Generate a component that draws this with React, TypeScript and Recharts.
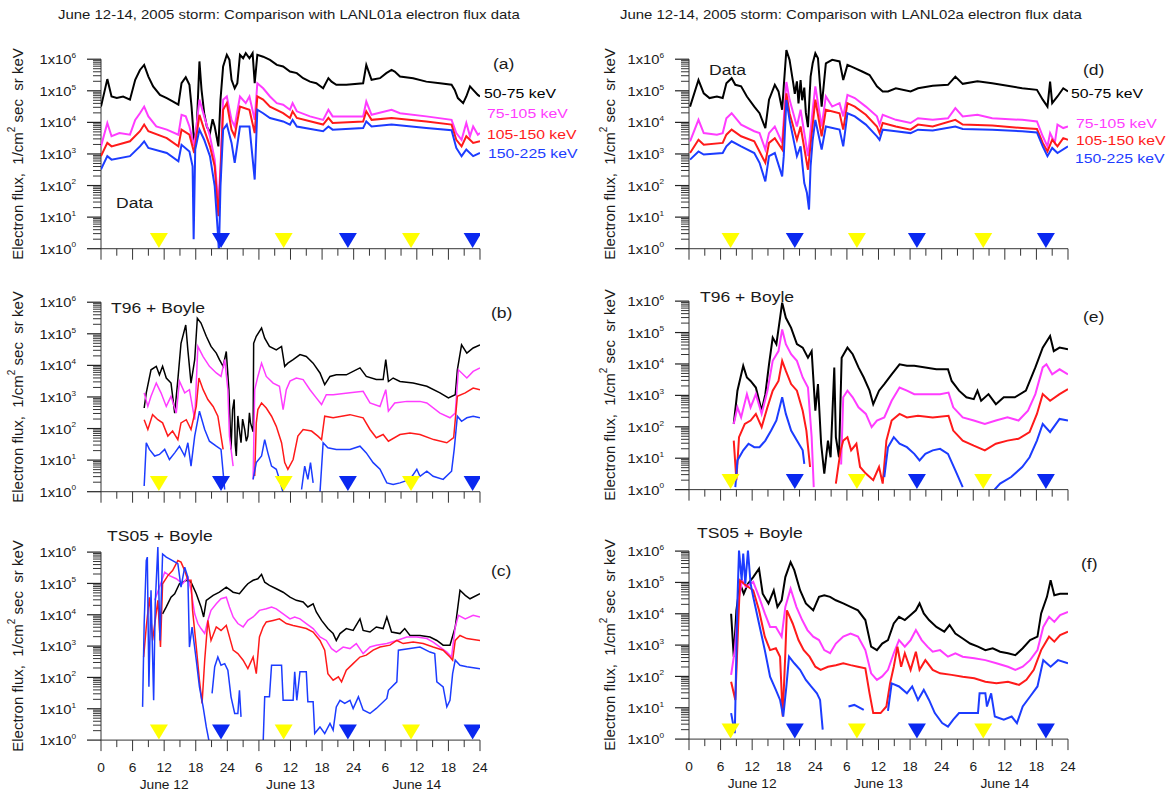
import { ComposedChart, Line, ReferenceLine, Scatter, XAxis, YAxis } from "recharts"

type Pt = [number, number | null]

// hours from 00 UT June 12, values = log10(flux), null = data gap

// (a) LANL01a data
const aBlack: Pt[] = [[0,4.5],[1.2,5.37],[2,4.82],[3,4.77],[4.2,4.82],[5.5,4.72],[6.5,5.35],[7.4,5.66],[8.2,5.82],[9,5.45],[9.9,5.14],[11.2,4.87],[12.5,4.77],[13.7,4.66],[14.7,4.56],[15.3,5.24],[16.1,5.43],[16.8,5.19],[17.2,4.5],[17.7,3.35],[18.2,3.87],[18.7,5.93],[19.1,5.03],[19.6,4.29],[20.1,3.87],[20.7,3.66],[21.2,4.1],[21.6,3.87],[22.3,3.24],[22.7,4.72],[23.2,5.77],[23.9,6.14],[24.4,5.98],[24.8,5.35],[25.4,5.08],[25.9,5.24],[26.4,6.14],[27,6.03],[27.5,6.19],[28.2,6.03],[28.8,6.19],[29.2,5.24],[29.7,6.14],[30.8,6.08],[32.1,5.98],[33.4,5.82],[34.6,5.77],[35.9,5.61],[37.2,5.56],[38.4,5.4],[39.7,5.29],[40.9,5.24],[42.2,5.08],[43.2,5.4],[43.8,5.29],[44.7,5.19],[46.6,5.19],[49.8,5.24],[50.4,5.82],[51.4,5.35],[53,5.4],[54.2,5.56],[55.2,5.66],[55.8,5.61],[56.8,5.45],[59.3,5.4],[61.8,5.29],[64.4,5.24],[66.6,5.19],[67.2,5.03],[67.8,4.77],[68.8,4.61],[69.4,4.82],[70.1,5.14],[70.7,5.03],[71.6,4.87],[72,4.82]]
const aPink: Pt[] = [[0,3.24],[1.2,3.98],[2,3.56],[3.5,3.66],[5.5,3.61],[6.5,4.08],[7.4,4.29],[8.2,4.5],[9,4.19],[10.5,3.87],[12.5,3.77],[14.7,3.61],[15.3,4.24],[16.1,4.19],[16.8,3.87],[17.7,3.24],[18.2,3.98],[18.7,4.72],[19.6,4.19],[20.7,3.56],[21.6,2.82],[22.3,1.35],[22.7,2.61],[23.2,4.72],[23.9,4.82],[24.8,4.08],[25.4,3.87],[26.4,4.82],[27.5,4.61],[28.2,4.82],[29.2,4.08],[29.7,5.24],[30.8,5.08],[32.1,4.82],[33.4,4.61],[34.6,4.56],[35.9,4.4],[36.4,4.61],[37.2,4.35],[39.7,4.19],[42.2,4.08],[43.2,4.4],[44,4.19],[46.6,4.19],[49.8,4.19],[50.4,4.66],[51.4,4.24],[55.2,4.4],[56.8,4.29],[61.8,4.19],[66.6,4.08],[67.5,3.66],[68.5,3.45],[69.4,3.98],[70.1,3.56],[70.7,3.87],[71.6,3.61],[72,3.66]]
const aRed: Pt[] = [[0,2.93],[1.2,3.35],[2,3.24],[5.5,3.4],[7.4,3.72],[8.2,3.93],[9,3.72],[12.5,3.5],[14.7,3.24],[15.3,3.77],[16.8,3.61],[17.7,3.03],[18.7,4.24],[19.6,3.77],[20.7,3.24],[21.6,2.61],[22.3,1.03],[22.7,2.4],[23.2,4.4],[23.9,4.61],[24.8,3.77],[25.4,3.56],[26.4,4.5],[28.2,4.4],[29.2,3.66],[29.7,4.82],[30.8,4.72],[32.1,4.5],[34.6,4.29],[35.9,4.14],[36.4,4.35],[37.2,4.14],[42.2,3.93],[43.2,4.14],[44,3.98],[49.8,4.03],[50.4,4.35],[51.4,4.08],[55.2,4.14],[61.8,4.03],[66.6,3.93],[67.5,3.45],[68.5,3.24],[69.4,3.56],[70.7,3.35],[72,3.4]]
const aBlue: Pt[] = [[0,2.51],[1.2,2.93],[2,2.82],[5.5,2.93],[7.4,3.24],[8.2,3.4],[9,3.19],[12.5,3.03],[14.7,2.77],[15.3,3.29],[16.8,3.08],[17.4,2.61],[17.6,0.3],[17.9,3.14],[18.7,3.77],[19.6,3.45],[20.7,2.93],[21.6,1.98],[22.2,0.5],[22.4,-0.1],[22.7,1.98],[23.2,3.77],[23.9,3.93],[24.8,3.35],[25.4,2.72],[26.4,3.87],[28.2,3.87],[29.2,2.19],[29.7,4.4],[30.8,4.29],[32.1,4.14],[34.6,4.03],[35.9,3.93],[36.4,4.08],[37.2,3.87],[42.2,3.72],[43.2,3.87],[44,3.77],[49.8,3.82],[50.4,4.03],[51.4,3.87],[55.2,3.93],[61.8,3.82],[66.6,3.75],[67.5,3.19],[68.5,2.93],[69.4,3.14],[70.7,2.93],[72,3.03]]

// (b) T96 + Boyle, LANL01a
const bBlack: Pt[] = [[8.2,2.65],[8.6,3.13],[9.5,3.86],[10.5,3.97],[11.1,3.7],[11.7,3.97],[12.4,3.6],[13.3,3.44],[14,2.49],[14.6,3.55],[15.2,4.7],[16.1,5.28],[16.5,4.49],[17.1,3.44],[17.8,4.18],[18.3,5.49],[19,5.34],[20,4.92],[20.9,4.6],[21.9,4.39],[22.5,4.18],[23.2,3.97],[23.8,4.44],[24.3,3.23],[24.7,1.34],[25,2.6],[25.3,2.92],[25.5,1.5],[25.7,1.13],[26,2.4],[26.2,2.07],[26.6,1.55],[26.9,2.3],[27.3,1.97],[27.6,1.6],[27.9,1.76],[28.2,2.5],[28.4,2.18],[28.9,1.9],[29,4.7],[29.5,4.92],[30.5,5.18],[31.1,4.86],[32,4.6],[33.3,4.49],[34.3,4.6],[34.9,3.97],[35.5,4.07],[36.5,4.18],[37.8,4.34],[39,4.28],[40.3,4.07],[41.6,3.76],[42.5,3.39],[43.5,3.65],[44.7,3.7],[46.6,3.7],[49.2,3.92],[50.4,3.65],[52.3,3.55],[53.6,3.55],[54.1,4.18],[54.6,3.49],[55.5,3.6],[56.8,3.49],[59.3,3.44],[61.9,3.34],[64.4,3.13],[66,2.97],[67.3,3.07],[67.7,3.86],[68.5,4.65],[69.5,4.39],[70.7,4.55],[72,4.65]]
const bPink: Pt[] = [[8.2,3.13],[8.9,2.7],[9.5,3.02],[10.5,3.44],[11.4,3.13],[12.4,2.7],[13.3,3.02],[14.3,2.49],[14.9,3.5],[15.9,3.13],[16.8,3.23],[17.8,2.28],[18.4,4.6],[19.4,4.28],[20.6,3.97],[21.9,3.76],[22.8,3.65],[23.5,4.18],[24.1,3.23],[24.4,1.76],[25.1,0.81],[25.2,null],[28.9,0.39],[29.2,3.23],[29.8,3.65],[30.5,4.07],[31.4,3.65],[32.7,3.44],[33.9,3.34],[34.6,2.6],[35.2,3.23],[35.9,3.5],[37.1,3.6],[38.4,3.55],[39.7,3.23],[40.9,2.97],[41.9,2.76],[42.8,3.07],[44.1,3.07],[47.3,3.13],[49.8,3.18],[51.1,2.81],[53,2.7],[54.1,3.23],[54.6,2.55],[55.8,2.81],[58.1,2.86],[60.6,2.86],[61.9,2.81],[64.4,2.49],[66.3,2.34],[67.3,2.49],[67.9,3.86],[69.5,3.6],[70.7,3.81],[72,3.92]]
const bRed: Pt[] = [[8.2,2.28],[8.9,1.97],[9.8,2.44],[10.8,2.28],[11.7,2.18],[12.7,1.76],[13.6,1.92],[14.6,1.65],[15.2,2.18],[16.2,2.28],[17.1,1.97],[18.1,2.7],[18.6,3.6],[19.4,3.23],[20.3,2.92],[21.3,2.7],[22.2,2.39],[23.2,1.34],[23.3,null],[29.2,0.5],[29.5,2.18],[29.8,2.6],[30.5,2.81],[31.4,2.65],[32.4,2.39],[33.3,2.07],[34.3,1.55],[34.9,0.92],[35.5,0.71],[36.5,1.02],[37.4,1.76],[38.4,1.97],[40,1.92],[41.2,1.76],[41.9,1.65],[42.5,2.39],[44.1,2.34],[47.3,2.44],[49.8,2.34],[51.1,1.97],[52.3,1.71],[53.6,1.81],[54.6,1.6],[56.8,1.81],[58.7,1.86],[60.6,1.81],[63.2,1.65],[65.7,1.55],[67,1.71],[67.7,3.02],[69.2,3.13],[70.7,3.28],[72,3.23]]
const bBlue: Pt[] = [[8.2,0.18],[8.6,1.55],[9.2,1.34],[10.2,1.13],[11.1,1.18],[12.1,1.34],[13,1.02],[14,1.23],[14.9,1.44],[15.9,1.13],[16.5,1.55],[17.1,0.81],[17.8,1.76],[18.7,2.55],[19.7,1.97],[20.6,1.6],[21.9,1.44],[22.8,1.34],[23.5,0.07],[23.6,null],[28.9,0.39],[29.5,0.92],[30.5,1.13],[31.1,1.65],[31.7,1.23],[32.4,0.81],[33.3,0.71],[33.9,0.39],[34.6,-0.03],[34.7,null],[38.1,0.07],[38.7,0.81],[39.3,0.39],[39.8,0.92],[40.3,0.28],[40.4,null],[41.6,-0.03],[42.2,1.55],[43.1,1.39],[44.7,1.34],[47.3,1.34],[49.2,1.44],[50.4,1.23],[51.7,0.92],[53,0.71],[54.3,0.28],[55.5,0.23],[56.8,0.28],[58.7,0.39],[60,0.71],[60.6,0.49],[61.9,0.65],[63.1,0.49],[65,0.39],[66.6,0.65],[67.1,1.34],[67.7,2.39],[68.5,2.23],[69.5,2.34],[70.7,2.39],[72,2.34]]

// (c) TS05 + Boyle, LANL01a
const cBlack: Pt[] = [[11.7,4.03],[12.4,4.25],[13.3,4.56],[14,4.67],[14.9,4.99],[16.2,5.1],[17.1,5.04],[18.1,4.67],[19,4.25],[19.5,3.93],[20,4.46],[21.3,4.62],[22.5,4.72],[23.8,4.88],[25.1,4.72],[26.3,4.67],[27.3,4.88],[27.9,4.99],[28.9,5.1],[29.8,5.15],[30.5,5.29],[31.1,5.04],[32,4.94],[33.3,4.83],[34.6,4.72],[35.9,4.56],[37.1,4.46],[38.4,4.41],[39.3,4.25],[40.3,4.35],[40.9,4.09],[41.9,3.82],[43.1,3.56],[44.1,3.4],[44.7,3.18],[45.4,3.4],[46.6,3.56],[47.9,3.5],[49.2,3.87],[49.8,3.5],[51.1,3.45],[52.3,3.61],[53.6,3.56],[54.3,3.93],[55.2,3.45],[56.8,3.4],[57.7,3.56],[58.7,3.34],[60.6,3.34],[62.5,3.29],[63.8,3.18],[65,3.03],[66.3,3.03],[67.3,3.61],[68.2,4.78],[69.2,4.62],[70.1,4.51],[72,4.67]]
const cPink: Pt[] = [[10.2,4.46],[11.1,4.88],[12.1,5.36],[13,5.25],[14.3,5.15],[15.5,4.99],[16.5,5.2],[17.1,4.78],[17.8,4.03],[18.4,3.72],[19,3.56],[19.7,3.4],[20.3,3.82],[20.9,4.14],[21.9,4.35],[22.8,4.51],[23.8,4.56],[24.4,4.25],[25.1,3.93],[26,3.72],[27,3.61],[27.9,3.82],[28.9,3.93],[30.1,4.14],[31.4,4.19],[32.4,4.25],[33.3,4.19],[34.6,4.03],[35.9,3.87],[36.8,3.93],[37.8,3.87],[39,3.72],[40.3,3.56],[41.6,3.29],[42.8,3.18],[43.8,2.92],[44.7,2.81],[46,2.97],[47.3,2.92],[48.5,3.08],[49.8,2.76],[51.1,2.97],[52.3,3.03],[54.3,3.08],[56.2,3.18],[58.1,3.29],[60,3.29],[61.9,3.24],[63.1,3.13],[64.4,2.97],[65.7,2.81],[66.6,2.65],[67.3,3.61],[67.9,3.98],[69.2,3.87],[70.7,3.98],[72,3.93]]
const cRed: Pt[] = [[8.1,2.65],[8.6,3.61],[9.2,4.56],[9.8,3.18],[10.8,4.46],[11.3,2.97],[11.7,4.99],[12.7,5.25],[13.6,5.41],[14.6,5.73],[15.2,5.68],[15.9,5.41],[16.5,5.1],[17.1,5.1],[17.4,4.14],[18.1,2.97],[18.7,1.91],[19.2,1.17],[19.7,2.55],[20.3,3.82],[20.9,3.18],[21.9,3.61],[22.8,3.5],[23.8,3.66],[25.1,2.87],[26,2.76],[27,2.55],[27.9,2.28],[28.9,2.65],[29.5,2.12],[30.1,3.29],[30.8,3.61],[31.4,3.77],[32.7,3.82],[33.9,3.87],[35.2,3.72],[36.5,3.66],[37.8,3.61],[39,3.56],[40.3,3.45],[41.6,3.18],[42.5,2.87],[43.1,2.12],[44.1,1.91],[45.1,2.02],[45.7,1.86],[46.6,2.23],[47.9,2.44],[49.2,2.65],[50.4,2.71],[51.7,2.87],[53,2.97],[54.9,3.03],[56.2,3.18],[57.4,3.08],[59.3,3.13],[61.2,3.08],[63.1,2.97],[65,2.87],[66.3,2.65],[66.8,2.55],[67.3,3.18],[68.2,3.34],[69.5,3.24],[72,3.18]]
const cBlue: Pt[] = [[7.9,1.06],[8.2,3.72],[8.6,5.73],[8.8,5.84],[9.1,1.7],[9.5,4.78],[10,1.27],[10.3,4.35],[10.8,6.16],[11.2,3.18],[11.7,5.94],[12.4,5.84],[13.6,5.73],[14.6,5.63],[15.2,4.88],[15.9,5.52],[16.5,5.2],[16.8,2.97],[17.3,3.61],[18.1,2.55],[18.7,1.7],[19.4,1.06],[20,0.42],[20.6,-0.1],[20.7,null],[21.1,1.49],[21.6,2.34],[22.2,2.65],[22.8,2.39],[23.5,2.44],[24.1,2.23],[24.7,1.38],[25.4,0.85],[26,0.85],[26.3,1.59],[26.6,0.74],[26.7,null],[30.8,-0.1],[31.1,1.38],[32,1.38],[32.4,2.39],[34.3,2.39],[34.6,1.27],[36.5,1.27],[36.8,2.18],[37.2,1.27],[37.8,2.18],[39,2.18],[39.3,1.22],[40.3,1.22],[40.6,0.21],[41.6,0.42],[42.5,0.21],[43.5,0.53],[44.1,0.32],[44.7,1.06],[45.4,1.27],[46.3,1.17],[47.3,1.27],[47.9,1.01],[48.9,1.38],[49.8,0.96],[51.1,0.85],[52.3,1.01],[54.3,1.33],[54.6,1.59],[56.2,1.86],[56.5,2.87],[58.7,2.92],[60.6,2.97],[62.5,2.81],[63.4,2.76],[63.8,1.86],[65,1.7],[65.7,1.06],[66.3,1.27],[66.8,2.12],[67.3,2.55],[68.2,2.39],[69.5,2.34],[72,2.28]]

// (d) LANL02a data
const dBlack: Pt[] = [[0.2,4.5],[1.8,5.34],[2.8,4.92],[3.9,4.77],[5.3,4.82],[6.4,4.77],[7.1,5.24],[8.1,5.4],[8.8,5.19],[9.9,5.14],[11,4.82],[12.4,4.5],[13.4,4.29],[14.5,3.82],[15.2,4.72],[16.3,5.19],[17,4.98],[17.7,4.4],[18,5.14],[18.5,6.29],[19.1,5.98],[19.8,5.24],[20.1,4.9],[20.5,5.3],[20.8,4.6],[21.2,5.34],[21.5,4.7],[21.9,5.1],[22.2,4.3],[22.6,3.85],[23.1,5.45],[23.5,5.87],[24,6.19],[24.5,6.03],[25.2,4.5],[26,5.87],[27.2,5.98],[28.6,5.93],[29.3,5.34],[30.1,5.82],[31.5,5.72],[32.9,5.61],[34.3,5.5],[35.7,5.14],[36.8,4.98],[37.8,4.98],[39.3,5.08],[42.1,4.98],[43.5,5.08],[46.3,5.16],[49.2,5.19],[50.6,5.45],[52,5.22],[54.8,5.3],[57.6,5.24],[60.5,5.16],[63.3,5.08],[66.1,5.03],[67.2,4.72],[68.1,4.5],[68.6,5.29],[69,4.61],[70,4.82],[71.1,5.08],[72,4.98]]
const dPink: Pt[] = [[0.2,3.4],[1.8,4.08],[2.8,3.66],[5.3,3.61],[6.4,3.66],[7.1,4.13],[8.1,4.29],[9.9,3.93],[12.4,3.72],[13.4,3.66],[14.5,3.14],[15.2,3.66],[16.3,3.87],[17.7,3.35],[18.5,5.28],[19.1,4.72],[20.5,3.87],[21.2,4.4],[22.6,2.93],[23.5,4.4],[24,5.14],[25.2,3.87],[26,4.82],[27.2,4.5],[28.6,4.61],[29.3,4.19],[30.1,4.87],[31.5,4.77],[33.6,4.5],[35.7,4.19],[36.2,3.93],[36.8,4.24],[39.3,4.08],[42.1,3.98],[43.5,4.13],[46.3,4.08],[49.2,4.13],[50.6,4.45],[52,4.19],[54.8,4.24],[57.6,4.13],[63.3,4.08],[66.1,4.03],[67.2,3.56],[68.1,3.24],[68.6,3.66],[69.5,3.35],[70,3.93],[71.1,3.82],[72,3.87]]
const dRed: Pt[] = [[0.2,3.03],[1.8,3.45],[2.8,3.29],[6.4,3.35],[7.1,3.61],[8.1,3.77],[9.9,3.56],[12.4,3.4],[14.5,2.72],[15.2,3.35],[16.3,3.5],[17.7,3.14],[18.5,4.92],[19.1,4.29],[20.5,3.45],[21.2,3.87],[22.6,2.5],[23.2,3.45],[24,4.72],[25.2,3.56],[26,4.4],[28.6,4.29],[29.3,3.77],[30.1,4.61],[31.5,4.5],[33.6,4.24],[35.7,3.87],[36.2,3.66],[36.8,3.98],[39.3,3.87],[42.1,3.77],[43.5,3.93],[46.3,3.87],[50.6,4.08],[52,3.93],[57.6,3.9],[63.3,3.82],[66.1,3.79],[67.2,3.35],[68.1,3.08],[69,3.45],[70,3.24],[71.1,3.5],[72,3.45]]
const dBlue: Pt[] = [[0.2,2.82],[1.8,3.08],[2.8,2.98],[6.4,3.03],[7.1,3.24],[8.1,3.4],[9.9,3.24],[12.4,3.03],[13.4,2.72],[14.5,2.13],[15.2,2.93],[16.3,3.03],[17.7,2.29],[18,2.93],[18.5,4.71],[19.1,4.08],[20.5,2.93],[21.2,3.24],[21.9,2.08],[22.4,1.77],[22.8,1.24],[23.1,2.61],[23.5,3.45],[24,4.08],[25.2,3.14],[26,3.87],[28.6,3.77],[29.3,3.24],[30.1,4.29],[31.5,4.19],[33.6,3.93],[35.7,3.56],[36.2,3.45],[36.8,3.77],[39.3,3.72],[42.1,3.66],[43.5,3.77],[46.3,3.74],[50.6,3.87],[52,3.79],[57.6,3.77],[63.3,3.72],[66.1,3.68],[67.2,3.24],[68.1,2.93],[69,3.19],[70,3.03],[72,3.24]]

// (e) T96 + Boyle, LANL02a
const eBlack: Pt[] = [[8.5,2.09],[9.2,3.15],[10.3,3.94],[11,3.57],[11.7,3.46],[12.7,3.25],[13.8,2.51],[14.5,3.04],[15.2,3.99],[15.9,4.84],[16.6,4.63],[17.3,5.47],[17.7,5.95],[18.4,5.47],[19.4,5.15],[20.5,4.63],[21.6,4.52],[22.6,4.2],[23.3,4.41],[24,2.51],[24.5,3.36],[25.1,1.46],[25.7,0.51],[26.4,1.56],[26.9,1.03],[27.6,3.89],[27.9,1.67],[28.5,1.03],[29,4.2],[30.1,4.52],[31.1,4.31],[32.2,3.89],[33.2,3.57],[34.3,3.15],[35,2.72],[36.1,3.15],[37.1,3.36],[38.5,3.67],[40,3.99],[41.4,3.94],[42.8,3.94],[44.9,3.89],[47,3.83],[49.2,3.83],[49.9,3.46],[51.3,3.15],[52.7,2.94],[54.1,2.88],[54.8,3.15],[55.5,2.83],[56.9,3.04],[58.3,2.72],[59.8,2.94],[61.9,2.94],[64,3.15],[65.8,3.89],[67.2,4.52],[68.6,4.89],[69.3,4.41],[70.4,4.52],[72,4.47]]
const ePink: Pt[] = [[8.5,2.09],[9.2,2.62],[9.9,2.3],[11,3.04],[11.7,2.62],[12.7,3.04],[13.8,2.41],[14.9,3.15],[15.9,4.1],[17,4.41],[17.7,5.1],[18.4,4.63],[19.4,4.31],[20.5,4.1],[21.6,3.57],[22.6,3.25],[23.3,1.67],[23.7,0.08],[23.8,null],[28.9,0.8],[29.3,2.94],[30.1,3.15],[31.1,2.94],[32.2,2.62],[33.6,2.41],[34.7,1.99],[35.7,2.2],[37.1,2.3],[38.5,2.83],[40,3.25],[41.4,3.15],[42.8,3.04],[44.9,3.04],[47.7,3.04],[49.3,3.09],[50.2,2.62],[52,2.3],[54.1,2.2],[56.2,2.09],[58.3,2.2],[60.5,2.3],[62.6,2.2],[64.4,2.51],[65.8,3.04],[67.2,3.89],[67.9,3.99],[69,3.67],[70.4,3.83],[72,3.67]]
const eRed: Pt[] = [[8.5,1.56],[9,0.3],[9.5,1.67],[10.6,2.09],[11.7,2.2],[12.7,2.41],[13.8,1.99],[14.9,2.62],[15.9,3.15],[17,3.46],[17.7,4.1],[18.4,3.78],[19.4,3.36],[20.5,3.15],[21.6,2.51],[22.3,1.88],[23,0.72],[23.1,null],[27.9,0.19],[28.8,1.25],[29.3,1.56],[30.1,1.67],[30.8,1.25],[31.8,1.46],[32.5,0.72],[33.6,0.51],[35,0.3],[36.1,0.72],[36.8,0.19],[37.5,1.56],[38.5,2.2],[40,2.41],[41.4,2.3],[43.5,2.35],[46.3,2.3],[49.3,2.35],[50.2,1.88],[52,1.56],[54.1,1.4],[56.2,1.25],[58.3,1.46],[60.5,1.56],[62.6,1.62],[64.7,1.83],[66.1,2.41],[67.2,3.04],[68.6,2.83],[70.4,3.04],[72,3.2]]
const eBlue: Pt[] = [[8.8,0.08],[9.2,0.93],[10.3,1.25],[11.3,1.46],[12.4,1.35],[13.4,1.35],[14.5,1.56],[15.6,1.88],[16.6,2.2],[17.7,2.94],[18.4,2.41],[19.4,1.88],[20.5,1.56],[21.6,1.25],[21.9,0.82],[22,null],[37.1,0.4],[37.8,1.35],[38.9,1.67],[40,1.46],[41.4,1.35],[42.8,1.14],[43.8,0.93],[44.9,1.14],[46.3,1.25],[47.7,1.3],[49.2,1.14],[50.6,0.61],[52,0.08],[52.1,null],[57.5,-0.1],[59.1,0.19],[61.2,0.4],[63.3,0.72],[64.7,1.03],[66.1,1.56],[67.2,2.09],[68.6,1.83],[70.4,2.25],[72,2.2]]

// (f) TS05 + Boyle, LANL02a
const fBlack: Pt[] = [[8,4],[8.5,2.63],[9,4.11],[9.7,4.96],[10.4,4.64],[11.2,4.96],[12.2,5.17],[13.3,5.44],[14,4.64],[15.1,4.33],[16.1,4.75],[16.8,4.22],[17.6,4.43],[18.3,5.17],[19.3,5.65],[20,5.39],[21.1,4.75],[22.2,4.33],[23.6,4.11],[24.7,4.54],[25.7,4.59],[26.8,4.54],[27.9,4.43],[29.3,4.33],[30.7,4.22],[32.1,4.11],[33.5,3.8],[34.6,2.95],[35.7,2.84],[36.7,3.05],[37.8,3.16],[38.9,3.69],[39.9,3.9],[41,3.8],[42.1,3.96],[43.1,4.11],[43.8,4.33],[44.6,4.01],[45.6,3.8],[47,3.58],[48.5,3.43],[49.5,3.64],[50.6,3.37],[52,3.21],[53.4,3.05],[54.9,2.95],[56.3,2.84],[57.7,2.9],[59.1,2.79],[60.6,2.74],[62,2.68],[63.4,2.9],[64.8,3.16],[66.2,3.27],[66.9,4.01],[68,4.54],[68.7,5.07],[69.4,4.59],[70.5,4.64],[72,4.64]]
const fPink: Pt[] = [[8,2.05],[8.7,2.84],[9.4,4.43],[10.1,5.07],[10.8,4.86],[12.2,5.02],[13.3,4.54],[14.4,4.01],[15.4,3.58],[16.5,3.58],[17.6,3.27],[18.3,4.22],[19.3,4.8],[20.4,4.22],[21.5,3.8],[22.5,3.48],[23.6,3.27],[24.7,3.16],[25.7,2.84],[26.8,2.74],[27.9,3.05],[29.3,3.27],[30.7,3.37],[32.1,3.27],[33.5,2.84],[34.6,2.1],[35.7,1.89],[36.7,2],[37.8,2.21],[38.9,2.74],[39.9,3.16],[41,2.95],[42.1,3.16],[43.1,3.48],[44.2,3.16],[45.3,2.95],[46.3,2.79],[47.7,2.84],[49.2,2.63],[50.6,2.74],[52,2.63],[54.2,2.58],[56.3,2.52],[58.4,2.42],[60.6,2.31],[62,2.21],[63.4,2.31],[64.8,2.52],[66.2,2.84],[67.3,3.58],[68.4,3.9],[69.4,3.74],[70.5,3.96],[72,4.06]]
const fRed: Pt[] = [[8,1.83],[8.8,1.25],[9.4,3.9],[9.7,5.07],[10.8,4.91],[12.2,4.75],[13.3,4.11],[14.4,3.27],[15.4,2.84],[16.5,2.9],[17.3,2.63],[17.8,0.72],[18.3,2.74],[18.6,4.11],[19.7,3.69],[20.8,3.16],[21.8,2.84],[22.9,2.63],[24,2.31],[25,2.21],[26.4,2.31],[27.9,2.36],[29.3,2.42],[30.7,2.36],[32.1,2.31],[33.5,2.26],[34.3,1.46],[35,0.83],[36.4,0.83],[37.5,1.04],[38.2,1.78],[38.9,2.31],[39.6,2.95],[40.3,2.31],[41,2.74],[42.1,2.21],[43.1,2.79],[43.8,2.21],[44.9,2.52],[46.3,2.21],[47.7,2.1],[49.9,2.05],[52,1.99],[54.2,1.94],[56.3,1.83],[58.4,1.78],[60.6,1.83],[62.7,1.73],[64.1,1.89],[65.5,2.21],[66.9,2.84],[68.4,3.27],[69.4,3.11],[70.5,3.32],[72,3.43]]
const fBlue: Pt[] = [[8,0.83],[8.7,0.19],[9.2,4.43],[9.5,6.02],[10,5.07],[10.3,5.92],[10.7,4.96],[11.2,6.02],[11.7,4.96],[12.2,4.54],[13.3,3.69],[14.4,2.84],[15.4,1.99],[16.5,1.57],[17.3,1.25],[17.9,0.72],[18.5,1.68],[19,2.63],[20,2.42],[21.1,2.21],[22.2,1.89],[23.2,1.68],[24.3,1.46],[24.9,1.25],[25.4,0.3],[25.5,null],[30.3,1.04],[31.4,1.09],[33.2,0.93],[33.3,null],[37.8,0.9],[38.5,1.78],[39.9,1.68],[41.4,1.46],[42.4,1.68],[43.5,1.25],[44.6,1.57],[45.6,1.25],[46.7,0.83],[48.1,0.51],[49.2,0.4],[50.2,0.62],[51.3,0.83],[52.7,0.83],[54.9,0.83],[55.2,1.46],[56.3,1.46],[56.6,1.04],[57.4,1.46],[58.1,0.72],[59.8,0.62],[61.3,0.72],[62.3,0.51],[63.4,1.04],[64.8,1.36],[66.2,1.68],[67.3,2.52],[68.7,2.31],[70.1,2.52],[72,2.42]]

// noon (yellow) and midnight (blue) markers, hours
const yellowLeft = [11.0, 34.7, 58.9]
const blueLeft = [22.8, 46.9, 70.6]
const yellowRight = [7.9, 31.9, 55.9]
const blueRight = [20.1, 43.3, 67.8]

const bands = ["50-75 keV", "75-105 keV", "105-150 keV", "150-225 keV"]
const colors = ["#000000", "#ff3cff", "#ff1a1a", "#1c3cff"]

const xTicks = [0, 3, 6, 9, 12, 15, 18, 21, 24, 27, 30, 33, 36, 39, 42, 45, 48, 51, 54, 57, 60, 63, 66, 69, 72]
const xTickLabels: Record<number, string> = { 0: "0", 6: "6", 12: "12", 18: "18", 24: "24", 30: "6", 36: "12", 42: "18", 48: "24", 54: "6", 60: "12", 66: "18", 72: "24" }
const dayLabels: Record<number, string> = { 12: "June 12", 36: "June 13", 60: "June 14" }
const yMajor = [1, 10, 100, 1e3, 1e4, 1e5, 1e6]
const minorSteps = [2, 3, 4, 5, 6, 7, 8, 9]

const FONT = "'Liberation Sans', Arial, sans-serif"
const PLOT_W = 379
const AXIS_W = 90
const RIGHT = 18
const HEADROOM = 0.45 // decades shown above 1e6 so spikes are not cut

const toRows = (pts: Pt[]) => pts.map(([h, e]) => ({ h, v: e === null ? null : Math.pow(10, e) }))
const markerRows = (hours: number[]) => hours.map((h) => ({ h, v: Math.pow(10, 0.5) }))

function STxt({ x, y, size, color = "#1a1a1a", anchor = "start", sx = 1.17, children }: any) {
  return (
    <text
      transform={`translate(${x},${y}) scale(${sx},1)`}
      fontSize={size}
      fill={color}
      textAnchor={anchor}
      dominantBaseline="central"
      fontFamily={FONT}
    >
      {children}
    </text>
  )
}

function XTick({ x, y, payload, labels }: any) {
  const h = payload.value
  const major = h % 6 === 0
  return (
    <g>
      <line x1={x} x2={x} y1={y} y2={y + (major ? 11 : 7)} stroke="#333" />
      {labels && xTickLabels[h] !== undefined && (
        <STxt x={x} y={y + 28} size={12.5} anchor="middle" sx={1.1}>
          {xTickLabels[h]}
        </STxt>
      )}
      {labels && dayLabels[h] && (
        <STxt x={x} y={y + 45} size={12.5} anchor="middle" sx={1.1}>
          {dayLabels[h]}
        </STxt>
      )}
    </g>
  )
}

// major tick + label; the log minor ticks of the decade above are drawn from it
function YTick({ x, y, payload, dec }: any) {
  const n = Math.round(Math.log10(payload.value))
  return (
    <g>
      <line x1={x - 14} x2={x} y1={y} y2={y} stroke="#222" strokeWidth={1.2} />
      {n < 6 &&
        minorSteps.map((k) => {
          const yy = y - Math.log10(k) * dec
          return <line key={k} x1={x - 8} x2={x} y1={yy} y2={yy} stroke="#333" strokeWidth={1} />
        })}
      <text
        transform={`translate(${x - 25},${y + 1}) scale(1.18,1)`}
        fontSize={12.5}
        fill="#1a1a1a"
        textAnchor="end"
        dominantBaseline="central"
        fontFamily={FONT}
      >
        1x10<tspan fontSize={7} dy={-5}>{n}</tspan>
      </text>
    </g>
  )
}

function Tri({ cx, cy, fill }: any) {
  if (cx == null || cy == null) return null
  return <polygon points={`${cx - 9},${cy} ${cx + 9},${cy} ${cx},${cy + 15}`} fill={fill} />
}

type PanelDef = {
  left: number
  y6: number
  y0: number
  series: Pt[][]
  yellow: number[]
  blue: number[]
  bottom: boolean
  sw: number
}

function Panel({ p }: { p: PanelDef }) {
  const dec = (p.y0 - p.y6) / 6
  const plotTop = p.y6 - HEADROOM * dec
  const plotH = p.y0 - plotTop
  const mTop = 4
  const xH = 62
  return (
    <div style={{ position: "absolute", left: p.left - AXIS_W, top: plotTop - mTop }}>
      <ComposedChart
        width={AXIS_W + PLOT_W + RIGHT}
        height={mTop + plotH + xH}
        margin={{ top: mTop, right: RIGHT, bottom: 0, left: 0 }}
      >
        <XAxis
          type="number"
          dataKey="h"
          domain={[0, 72]}
          ticks={xTicks}
          interval={0}
          allowDataOverflow
          height={xH}
          tickLine={false}
          tickSize={0}
          tickMargin={0}
          axisLine={{ stroke: "#333" }}
          tick={(t: any) => <XTick {...t} labels={p.bottom} />}
        />
        <YAxis
          type="number"
          dataKey="v"
          scale="log"
          domain={[1, Math.pow(10, 6 + HEADROOM)]}
          allowDataOverflow
          ticks={yMajor}
          interval={0}
          width={AXIS_W}
          tickLine={false}
          tickSize={0}
          tickMargin={0}
          axisLine={false}
          tick={(t: any) => <YTick {...t} dec={dec} />}
        />
        <ReferenceLine segment={[{ x: 0, y: 1 }, { x: 0, y: 1e6 }]} stroke="#333" ifOverflow="visible" />
        {p.series.map((s, i) => (
          <Line
            key={i}
            data={toRows(s)}
            dataKey="v"
            type="linear"
            stroke={colors[i]}
            strokeWidth={p.sw}
            dot={false}
            activeDot={false}
            isAnimationActive={false}
          />
        ))}
        <Scatter data={markerRows(p.yellow)} dataKey="v" shape={(s: any) => <Tri {...s} fill="#ffff00" />} isAnimationActive={false} />
        <Scatter data={markerRows(p.blue)} dataKey="v" shape={(s: any) => <Tri {...s} fill="#0a28f0" />} isAnimationActive={false} />
      </ComposedChart>
    </div>
  )
}

const panels: PanelDef[] = [
  { left: 101, y6: 59.5, y0: 249, series: [aBlack, aPink, aRed, aBlue], yellow: yellowLeft, blue: blueLeft, bottom: false, sw: 2 },
  { left: 101, y6: 302, y0: 491.5, series: [bBlack, bPink, bRed, bBlue], yellow: yellowLeft, blue: blueLeft, bottom: false, sw: 1.5 },
  { left: 101, y6: 552, y0: 740, series: [cBlack, cPink, cRed, cBlue], yellow: yellowLeft, blue: blueLeft, bottom: true, sw: 1.5 },
  { left: 689, y6: 59.5, y0: 249, series: [dBlack, dPink, dRed, dBlue], yellow: yellowRight, blue: blueRight, bottom: false, sw: 2 },
  { left: 689, y6: 301, y0: 489.5, series: [eBlack, ePink, eRed, eBlue], yellow: yellowRight, blue: blueRight, bottom: false, sw: 2 },
  { left: 689, y6: 551, y0: 739, series: [fBlack, fPink, fRed, fBlue], yellow: yellowRight, blue: blueRight, bottom: true, sw: 2 },
]

function YTitle({ x, y }: { x: number; y: number }) {
  return (
    <text
      transform={`translate(${x},${y}) rotate(-90)`}
      fontSize={15}
      fill="#1a1a1a"
      textAnchor="middle"
      dominantBaseline="central"
      fontFamily={FONT}
      style={{ whiteSpace: "pre" }}
    >
      {"Electron flux,  1/cm"}
      <tspan fontSize={10} dy={-6}>2</tspan>
      <tspan dy={6}>{" sec  sr keV"}</tspan>
    </text>
  )
}

export default function App() {
  return (
    <div style={{ position: "absolute", left: 0, top: 0, width: 1174, height: 791, background: "#fff" }}>
      {panels.map((p, i) => (
        <Panel key={i} p={p} />
      ))}
      <svg width={1174} height={791} style={{ position: "absolute", left: 0, top: 0, pointerEvents: "none" }}>
        <STxt x={58} y={14} size={13} sx={1.15}>June 12-14, 2005 storm: Comparison with LANL01a electron flux data</STxt>
        <STxt x={620} y={14} size={13} sx={1.15}>June 12-14, 2005 storm: Comparison with LANL02a electron flux data</STxt>

        <YTitle x={17} y={154} />
        <YTitle x={17} y={397} />
        <YTitle x={17} y={646} />
        <YTitle x={609} y={154} />
        <YTitle x={609} y={395} />
        <YTitle x={609} y={645} />

        <STxt x={493} y={63} size={15}>(a)</STxt>
        <STxt x={491} y={312} size={15}>(b)</STxt>
        <STxt x={491} y={570} size={15}>(c)</STxt>
        <STxt x={1083} y={69} size={15}>(d)</STxt>
        <STxt x={1083} y={316} size={15}>(e)</STxt>
        <STxt x={1081} y={563} size={15}>(f)</STxt>

        <STxt x={116} y={202} size={15}>Data</STxt>
        <STxt x={709} y={69} size={15}>Data</STxt>
        <STxt x={111} y={307} size={15}>T96 + Boyle</STxt>
        <STxt x={700} y={296} size={15}>T96 + Boyle</STxt>
        <STxt x={107} y={535} size={15}>TS05 + Boyle</STxt>
        <STxt x={697} y={532} size={15}>TS05 + Boyle</STxt>

        <STxt x={484} y={93} size={13.5} color={colors[0]}>{bands[0]}</STxt>
        <STxt x={487} y={113} size={13.5} color={colors[1]}>{bands[1]}</STxt>
        <STxt x={487} y={134} size={13.5} color={colors[2]}>{bands[2]}</STxt>
        <STxt x={488} y={153} size={13.5} color={colors[3]}>{bands[3]}</STxt>

        <STxt x={1071} y={93} size={13.5} color={colors[0]}>{bands[0]}</STxt>
        <STxt x={1076} y={123} size={13.5} color={colors[1]}>{bands[1]}</STxt>
        <STxt x={1076} y={140} size={13.5} color={colors[2]}>{bands[2]}</STxt>
        <STxt x={1075} y={158} size={13.5} color={colors[3]}>{bands[3]}</STxt>
      </svg>
    </div>
  )
}
